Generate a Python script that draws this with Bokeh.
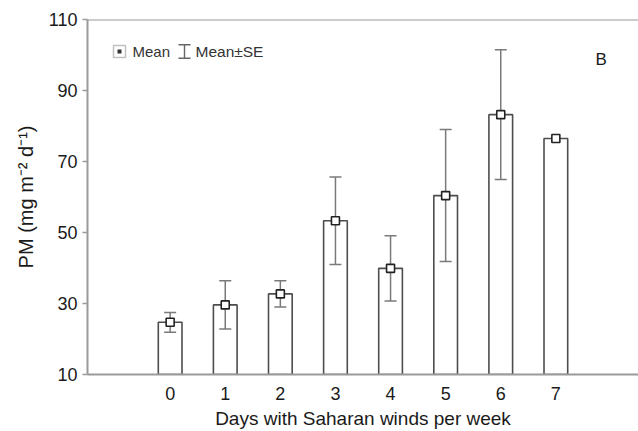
from bokeh.plotting import figure
from bokeh.models import (Range1d, ColumnDataSource, Label, Span, FixedTicker,
                          BoxAnnotation)
from bokeh.embed import file_html
from bokeh.resources import INLINE

# Weekly particulate deposition grouped by number of Saharan-wind days
days = [0, 1, 2, 3, 4, 5, 6, 7]
pm_mean = [24.7, 29.6, 32.7, 53.3, 39.9, 60.4, 83.2, 76.5]
pm_se = [2.8, 6.8, 3.7, 12.3, 9.2, 18.6, 18.3, 0.0]
y_ticks = [10, 30, 50, 70, 90, 110]

FONT = "Liberation Sans"
AXIS_GREY = "#9a9a9a"
BAR_EDGE = "#4d4d4d"
ERR_GREY = "#7a7a7a"
TEXT = "#1a1a1a"

p = figure(width=638, height=431, output_backend="svg", toolbar_location=None,
           x_range=Range1d(-1.5, 8.5), y_range=Range1d(10, 110),
           min_border_left=87, min_border_right=0, min_border_top=19,
           min_border_bottom=50)
p.outline_line_color = None
p.grid.grid_line_color = None
p.background_fill_color = "white"
p.border_fill_color = "white"

src = ColumnDataSource(dict(day=days, mean=pm_mean, se=pm_se))
p.vbar(x="day", top="mean", bottom=10, width=0.43, source=src,
       fill_color="white", line_color=BAR_EDGE, line_width=1.6)

# Mean ± SE error bars (only where an SE exists), drawn over the bars
err_idx = [i for i, s in enumerate(pm_se) if s > 0]
err_src = ColumnDataSource(dict(
    day=[days[i] for i in err_idx],
    upper=[pm_mean[i] + pm_se[i] for i in err_idx],
    lower=[pm_mean[i] - pm_se[i] for i in err_idx],
))
p.segment(x0="day", y0="lower", x1="day", y1="upper", source=err_src,
          line_color=ERR_GREY, line_width=1.5)
p.scatter(x="day", y="upper", source=err_src, marker="dash", size=12,
          line_color=ERR_GREY, line_width=1.5)
p.scatter(x="day", y="lower", source=err_src, marker="dash", size=12,
          line_color=ERR_GREY, line_width=1.5)

# mean markers
p.scatter(x="day", y="mean", source=src, marker="square", size=8,
          fill_color="white", line_color="#222222", line_width=1.6)

# top frame line
p.add_layout(Span(location=110, dimension="width", line_color=AXIS_GREY,
                  line_width=2))

# axes
p.yaxis.ticker = FixedTicker(ticks=y_ticks)
p.yaxis.minor_tick_line_color = None
p.yaxis.major_tick_out = 5
p.yaxis.major_tick_in = 0
p.yaxis.major_tick_line_color = AXIS_GREY
p.yaxis.major_tick_line_width = 1.5
p.yaxis.axis_line_color = AXIS_GREY
p.yaxis.axis_line_width = 2
p.yaxis.major_label_standoff = 5
p.yaxis.axis_label = "PM (mg m\u207b\u00b2 d\u207b\u00b9)"
p.yaxis.axis_label_standoff = 9
p.yaxis.axis_label_text_font_size = "20px"

p.xaxis.ticker = FixedTicker(ticks=days)
p.xaxis.minor_tick_line_color = None
p.xaxis.major_tick_line_color = None
p.xaxis.axis_line_color = AXIS_GREY
p.xaxis.axis_line_width = 2
p.xaxis.major_label_standoff = 6
p.xaxis.axis_label = "Days with Saharan winds per week"
p.xaxis.axis_label_standoff = 5
p.xaxis.axis_label_text_font_size = "19px"

for ax in (p.xaxis, p.yaxis):
    ax.major_label_text_font = FONT
    ax.major_label_text_font_size = "18px"
    ax.major_label_text_color = TEXT
    ax.axis_label_text_font = FONT
    ax.axis_label_text_font_style = "normal"
    ax.axis_label_text_color = TEXT

# legend, in screen units from the frame's lower-left corner
# "Mean" icon: outlined square with a small filled square inside
p.add_layout(BoxAnnotation(left=26, right=38, bottom=317, top=329,
                           left_units="screen", right_units="screen",
                           bottom_units="screen", top_units="screen",
                           fill_color="white", fill_alpha=1.0,
                           line_color="#333333", line_width=1.5, level="overlay"))
p.add_layout(BoxAnnotation(left=30, right=34, bottom=321, top=325,
                           left_units="screen", right_units="screen",
                           bottom_units="screen", top_units="screen",
                           fill_color="#333333", fill_alpha=1.0,
                           line_color=None, level="overlay"))
p.add_layout(Label(x=45, y=323, x_units="screen", y_units="screen",
                   text="Mean", text_font=FONT, text_font_size="15px",
                   text_color="#333333", text_baseline="middle"))
# "Mean±SE" icon: I-beam
for l, r, b, t in [(96.3, 97.7, 316, 330), (91, 103, 329, 330.5), (91, 103, 315.5, 317)]:
    p.add_layout(BoxAnnotation(left=l, right=r, bottom=b, top=t,
                               left_units="screen", right_units="screen",
                               bottom_units="screen", top_units="screen",
                               fill_color="#666666", fill_alpha=1.0,
                               line_color=None, level="overlay"))
p.add_layout(Label(x=108, y=323, x_units="screen", y_units="screen",
                   text="Mean\u00b1SE", text_font=FONT, text_font_size="15.5px",
                   text_color="#333333", text_baseline="middle"))

# panel letter
p.add_layout(Label(x=508, y=315, x_units="screen", y_units="screen",
                   text="B", text_font=FONT, text_font_size="17px",
                   text_color=TEXT, text_baseline="middle"))

open("out.html", "w").write(file_html(p, INLINE))
